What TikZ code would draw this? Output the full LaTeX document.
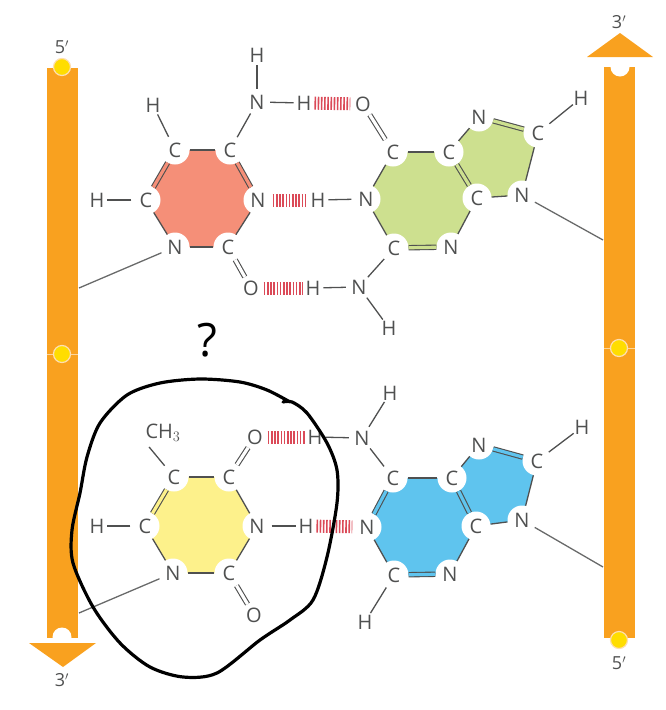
\documentclass[tikz,border=0pt]{standalone}
\usepackage{fontspec}
\setmainfont{Open Sans}
\usetikzlibrary{backgrounds}
\definecolor{strandcol}{HTML}{F9A11F}
\definecolor{beadcol}{HTML}{FFDD00}
\definecolor{bondcol}{HTML}{4F5050}
\definecolor{hbondcol}{HTML}{DB4A58}
\definecolor{cytcol}{HTML}{F58F78}
\definecolor{guacol}{HTML}{CDE08F}
\definecolor{thycol}{HTML}{FDF18B}
\definecolor{adecol}{HTML}{5FC4EE}
\tikzset{
  atom/.style={circle,fill=white,inner sep=0pt,minimum size=29pt,text=bondcol,font=\fontsize{20}{20}\selectfont},
  freeatom/.style={atom,minimum size=26pt},
  hatom/.style={atom,minimum size=20pt},
  oatom/.style={atom,minimum size=25pt},
  endlab/.style={text=bondcol,font=\fontsize{18}{18}\selectfont},
  bond/.style={draw=bondcol,line width=1.3pt},
  dbond/.style={draw=bondcol,line width=1.1pt,double=white,double distance=3.2pt},
  hbond/.style={draw=hbondcol,line width=13pt,dash pattern=on 1.6pt off 1.6pt},
  link/.style={draw=bondcol!85,line width=1.3pt},
  strand/.style={fill=strandcol},
  tick/.style={draw=strandcol!45!white,line width=1pt},
  bead/.style={circle,fill=beadcol,draw=strandcol!35!white,line width=1.2pt,inner sep=0pt,minimum size=17pt},
  notch/.style={circle,fill=white,inner sep=0pt,minimum size=19pt},
  sketch/.style={draw=black,line width=3.2pt,line cap=round,line join=round}
}
\begin{document}
\begin{tikzpicture}[x=1pt,y=-1pt]
\useasboundingbox (0,0) rectangle (666,710);
% strands
\fill[strand] (47,68) rectangle (78,638);
\fill[strand] (604,67) rectangle (635,638);
\draw[tick] (47,354) -- (78,354);
\draw[tick] (604,348) -- (635,348);
\node[notch] (notchL) at (62,637) {};
\node[notch] (notchR) at (620,67) {};
\fill[strand] (29,643) -- (96,643) -- (63,667) -- cycle;
\fill[strand] (587,57) -- (653,57) -- (620,33) -- cycle;
\node[bead] (beadLa) at (62,67) {};
\node[bead] (beadLb) at (62,354) {};
\node[bead] (beadRa) at (619,348) {};
\node[bead] (beadRb) at (619,640) {};
\node[endlab] (endLa) at (62,47) {5$'$};
\node[endlab] (endLb) at (62,680) {3$'$};
\node[endlab] (endRa) at (619,22) {3$'$};
\node[endlab] (endRb) at (619,663) {5$'$};
\coordinate (linkCyt) at (79,288);
\coordinate (linkGua) at (603,240);
\coordinate (linkThy) at (79,613);
\coordinate (linkAde) at (603,567);
% cytosine
\node[atom] (c1) at (175,150) {C};
\node[atom] (c2) at (230,150) {C};
\node[atom] (c3) at (258,200) {N};
\node[atom] (c4) at (228,247) {C};
\node[atom] (c5) at (175,247) {N};
\node[atom] (c6) at (146,200) {C};
\node[hatom] (c7) at (153,105) {H};
\node[hatom] (c8) at (97,200) {H};
\node[freeatom] (c9) at (257,102) {N};
\node[hatom] (c10) at (257,55) {H};
\node[hatom] (c11) at (304,103) {H};
\node[oatom] (c12) at (251,288) {O};
% guanine
\node[atom] (g1) at (393,152) {C};
\node[atom] (g2) at (449,152) {C};
\node[atom] (g3) at (477,198) {C};
\node[atom] (g4) at (451,247) {N};
\node[atom] (g5) at (394,248) {C};
\node[atom] (g6) at (366,199) {N};
\node[atom] (g7) at (479,117) {N};
\node[atom] (g8) at (538,133) {C};
\node[atom] (g9) at (522,195) {N};
\node[hatom] (g10) at (581,98) {H};
\node[oatom] (g11) at (363,104) {O};
\node[hatom] (g12) at (318,200) {H};
\node[freeatom] (g13) at (359,287) {N};
\node[hatom] (g14) at (313,288) {H};
\node[hatom] (g15) at (389,328) {H};
% thymine
\node[atom] (t1) at (174,477) {C};
\node[atom] (t2) at (229,477) {C};
\node[atom] (t3) at (257,526) {N};
\node[atom] (t4) at (229,573) {C};
\node[atom] (t5) at (173,573) {N};
\node[atom] (t6) at (145,526) {C};
\node[freeatom] (t7) at (163,433) {CH$_3$};
\node[hatom] (t8) at (97,526) {H};
\node[oatom] (t9) at (255,437) {O};
\node[oatom] (t10) at (254,615) {O};
\node[hatom] (t11) at (306,526) {H};
% adenine
\node[atom] (a1) at (393,478) {C};
\node[atom] (a2) at (452,478) {C};
\node[atom] (a3) at (476,526) {C};
\node[atom] (a4) at (450,574) {N};
\node[atom] (a5) at (394,575) {C};
\node[atom] (a6) at (367,527) {N};
\node[atom] (a7) at (479,445) {N};
\node[atom] (a8) at (537,461) {C};
\node[atom] (a9) at (522,520) {N};
\node[hatom] (a10) at (582,427) {H};
\node[freeatom] (a11) at (362,438) {N};
\node[hatom] (a12) at (390,393) {H};
\node[hatom] (a13) at (315,437) {H};
\node[hatom] (a14) at (365,622) {H};
% ring fills
\begin{pgfonlayer}{background}
\fill[cytcol] (c1.center) -- (c2.center) -- (c3.center) -- (c4.center) -- (c5.center) -- (c6.center) -- cycle;
\fill[guacol] (g1.center) -- (g2.center) -- (g3.center) -- (g4.center) -- (g5.center) -- (g6.center) -- cycle;
\fill[guacol] (g2.center) -- (g7.center) -- (g8.center) -- (g9.center) -- (g3.center) -- cycle;
\fill[thycol] (t1.center) -- (t2.center) -- (t3.center) -- (t4.center) -- (t5.center) -- (t6.center) -- cycle;
\fill[adecol] (a1.center) -- (a2.center) -- (a3.center) -- (a4.center) -- (a5.center) -- (a6.center) -- cycle;
\fill[adecol] (a2.center) -- (a7.center) -- (a8.center) -- (a9.center) -- (a3.center) -- cycle;
\end{pgfonlayer}
% bonds
\draw[bond] (c1) -- (c2);
\draw[bond] (c3) -- (c4);
\draw[bond] (c4) -- (c5);
\draw[bond] (c5) -- (c6);
\draw[bond] (c1) -- (c7);
\draw[bond] (c6) -- (c8);
\draw[bond] (c2) -- (c9);
\draw[bond] (c9) -- (c10);
\draw[bond] (c9) -- (c11);
\draw[dbond,double=cytcol] (c2) -- (c3);
\draw[dbond,double=cytcol] (c1) -- (c6);
\draw[dbond] (c4) -- (c12);
\draw[bond] (g1) -- (g2);
\draw[bond] (g1) -- (g6);
\draw[bond] (g3) -- (g4);
\draw[bond] (g5) -- (g6);
\draw[bond] (g2) -- (g7);
\draw[bond] (g8) -- (g9);
\draw[bond] (g3) -- (g9);
\draw[bond] (g8) -- (g10);
\draw[bond] (g6) -- (g12);
\draw[bond] (g5) -- (g13);
\draw[bond] (g13) -- (g14);
\draw[bond] (g13) -- (g15);
\draw[dbond,double=guacol] (g2) -- (g3);
\draw[dbond,double=guacol] (g4) -- (g5);
\draw[dbond,double=guacol] (g7) -- (g8);
\draw[dbond] (g1) -- (g11);
\draw[bond] (t1) -- (t2);
\draw[bond] (t2) -- (t3);
\draw[bond] (t3) -- (t4);
\draw[bond] (t4) -- (t5);
\draw[bond] (t5) -- (t6);
\draw[bond] (t1) -- (t7.south west);
\draw[bond] (t6) -- (t8);
\draw[bond] (t3) -- (t11);
\draw[dbond,double=thycol] (t1) -- (t6);
\draw[dbond] (t2) -- (t9);
\draw[dbond] (t4) -- (t10);
\draw[bond] (a1) -- (a2);
\draw[bond] (a3) -- (a4);
\draw[bond] (a5) -- (a6);
\draw[bond] (a2) -- (a7);
\draw[bond] (a8) -- (a9);
\draw[bond] (a3) -- (a9);
\draw[bond] (a8) -- (a10);
\draw[bond] (a1) -- (a11);
\draw[bond] (a11) -- (a12);
\draw[bond] (a11) -- (a13);
\draw[bond] (a5) -- (a14);
\draw[dbond,double=adecol] (a1) -- (a6);
\draw[dbond,double=adecol] (a2) -- (a3);
\draw[dbond,double=adecol] (a4) -- (a5);
\draw[dbond,double=adecol] (a7) -- (a8);
% hydrogen bonds
\draw[hbond] (c11) -- (g11);
\draw[hbond] (c3) -- (g12);
\draw[hbond] (c12) -- (g14);
\draw[hbond] (t9) -- (a13);
\draw[hbond] (t11) -- (a6);
% links to the strands
\draw[link] (c5) -- (linkCyt);
\draw[link] (g9) -- (linkGua);
\draw[link] (t5) -- (linkThy);
\draw[link] (a9) -- (linkAde);
% pen marks
\draw[sketch] plot[smooth] coordinates {(283,402) (292,402) (307,413) (327,443) (337,470) (337,503) (327,557) (313,600) (290,620) (260,640) (217,673) (183,677) (150,667) (120,643) (93,607) (73,563) (72,530) (80,493) (87,457) (100,423) (127,395) (160,383) (200,379) (240,382) (267,390) (290,402)};
\node[font=\fontsize{46}{46}\selectfont,text=black] (query) at (207,340) {?};
\end{tikzpicture}
\end{document}
